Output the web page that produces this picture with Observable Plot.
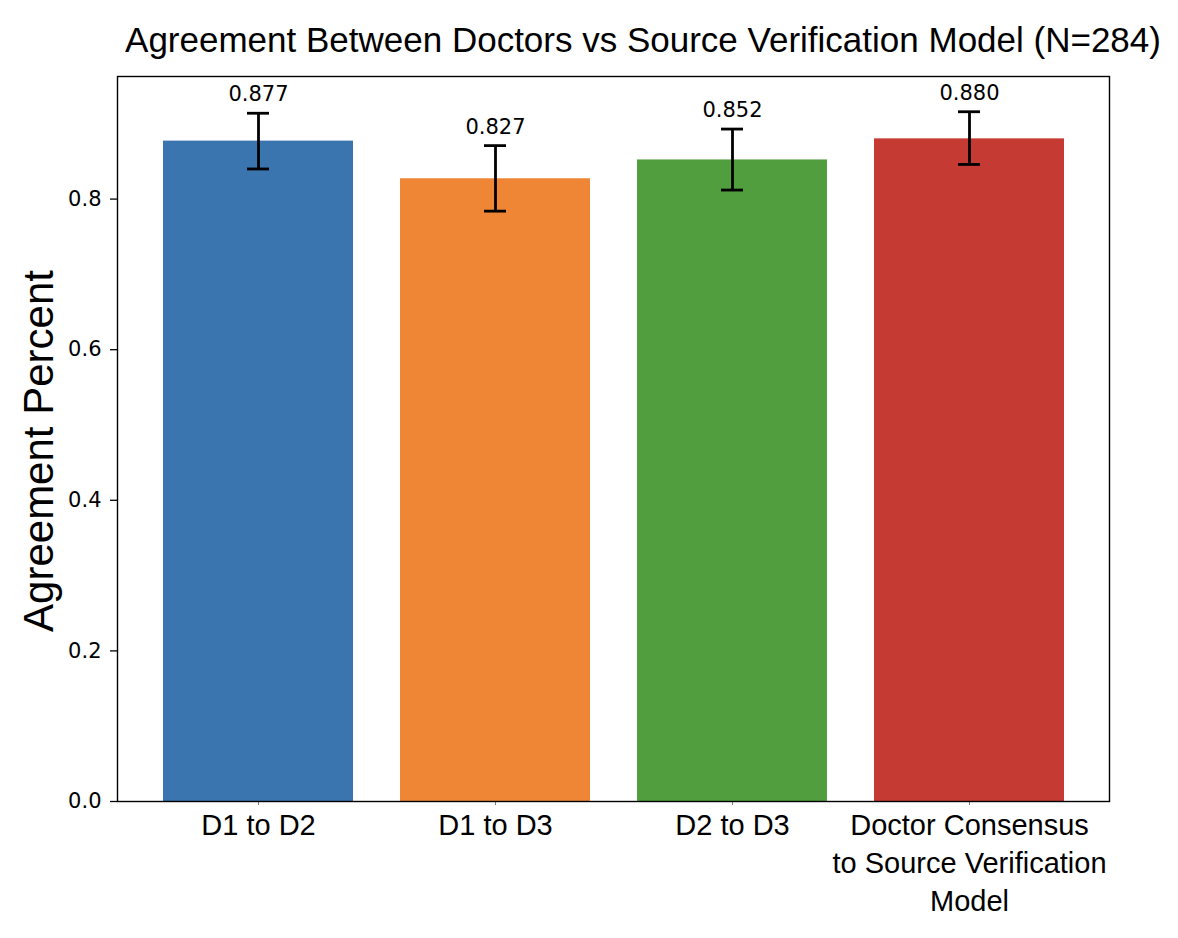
<!DOCTYPE html>
<html>
<head>
<meta charset="utf-8">
<script src="https://cdn.jsdelivr.net/npm/d3@7"></script>
<script src="https://cdn.jsdelivr.net/npm/@observablehq/plot@0.6"></script>
<style>
  html, body { margin: 0; padding: 0; background: #fff; overflow: hidden; }
  #title { position: relative; height: 56px; }
  #title span { position: absolute; left: 643px; top: 22px; transform: translateX(-50%); white-space: nowrap;
    font-family: "Liberation Sans", Arial, sans-serif; font-size: 35px; line-height: 35px; color: #000; }
</style>
</head>
<body>
<div id="title"><span>Agreement Between Doctors vs Source Verification Model (N=284)</span></div>
<div id="chart"></div>
<script>
const categories = ["D1 to D2", "D1 to D3", "D2 to D3", "Doctor Consensus\nto Source Verification\nModel"];
const values = [0.877, 0.827, 0.852, 0.880];
const ciLow = [0.840, 0.784, 0.812, 0.846];
const ciHigh = [0.914, 0.871, 0.893, 0.916];
const colors = ["#3b75af", "#ef8636", "#519e3e", "#c53a32"];
const yTicks = [0, 0.2, 0.4, 0.6, 0.8];
const valueLabels = ["0.877", "0.827", "0.852", "0.880"];

const data = categories.map((c, i) => ({
  category: c, value: values[i], lo: ciLow[i], hi: ciHigh[i], label: valueLabels[i]
}));

const chart = Plot.plot({
  width: 1178,
  height: 882,
  marginTop: 20,
  marginBottom: 137,
  marginLeft: 117,
  marginRight: 69,
  style: { fontFamily: "DejaVu Sans", fontSize: "21px", background: "#fff", color: "#000" },
  x: { domain: categories, paddingInner: 0.2, paddingOuter: 0.19, label: null },
  y: { domain: [0, 0.9628], label: null },
  color: { domain: categories, range: colors },
  marks: [
    Plot.barY(data, { x: "category", y: "value", fill: "category" }),
    Plot.ruleX(data, { x: "category", y1: "lo", y2: "hi", stroke: "#000", strokeWidth: 2.8 }),
    Plot.tickY(data, { x: "category", y: "lo", stroke: "#000", strokeWidth: 2.8, insetLeft: 84, insetRight: 84 }),
    Plot.tickY(data, { x: "category", y: "hi", stroke: "#000", strokeWidth: 2.8, insetLeft: 84, insetRight: 84 }),
    Plot.text(data, { x: "category", y: "hi", text: "label", dy: -12, lineAnchor: "bottom",
      fontSize: 21, fontFamily: "DejaVu Sans", fill: "#000" }),
    Plot.axisY({ ticks: yTicks, tickFormat: ".1f", tickSize: 7, tickPadding: 9, label: null, fontSize: 21,
      strokeWidth: 1.3 }),
    Plot.axisX({ tickSize: 4, tickFormat: () => "", label: null, strokeOpacity: 0.5 }),
    Plot.text(data, { x: "category", frameAnchor: "bottom", text: "category", lineAnchor: "top", dy: 7,
      lineHeight: 1.31, fontSize: 29, fontFamily: "Liberation Sans", fill: "#000" }),
    Plot.text(["Agreement Percent"], { frameAnchor: "left", textAnchor: "middle", text: d => d, rotate: -90,
      dx: -78, dy: 12, fontSize: 42, fontFamily: "Liberation Sans", fill: "#000" }),
    Plot.frame({ stroke: "#000", strokeWidth: 1.4 })
  ]
});
document.getElementById("chart").appendChild(chart);
</script>
</body>
</html>
